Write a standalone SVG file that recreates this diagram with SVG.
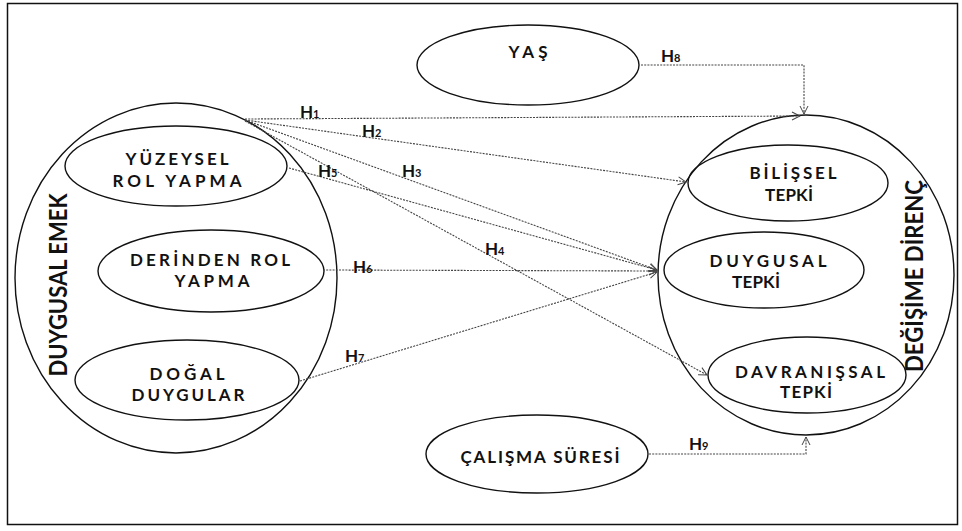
<svg xmlns="http://www.w3.org/2000/svg" width="962" height="531" viewBox="0 0 962 531">
<style>
.n{fill:none;stroke:#111;stroke-width:1.4}
.t{font-family:Lato,"Liberation Sans",sans-serif;font-weight:700;font-size:17px;fill:#111;text-anchor:middle}
.big{font-size:25px}
.c{fill:none;stroke:#444;stroke-width:1.1;stroke-dasharray:2 1.2}
.h{font-family:Lato,"Liberation Sans",sans-serif;font-weight:700;font-size:17px;fill:#111}
.s{font-size:11px}
</style>
<defs>
<marker id="a" markerWidth="10" markerHeight="10" refX="9" refY="5" orient="auto" markerUnits="userSpaceOnUse">
<path d="M1,1 L9,5 L1,9" fill="none" stroke="#444" stroke-width="1"/>
</marker>
</defs>
<rect x="7.5" y="3.5" width="950" height="521" fill="none" stroke="#111" stroke-width="1.5"/>
<g id="duygusal-emek">
<ellipse class="n" cx="176" cy="278" rx="161" ry="175"/>
<text class="t big" transform="translate(67,285) rotate(-90)" textLength="183" lengthAdjust="spacingAndGlyphs">DUYGUSAL EMEK</text>
</g>
<g id="yuzeysel">
<ellipse class="n" cx="176" cy="166" rx="111" ry="40"/>
<text class="t" x="177" y="165" textLength="103">YÜZEYSEL</text>
<text class="t" x="177" y="187" textLength="129">ROL YAPMA</text>
</g>
<g id="derinden">
<ellipse class="n" cx="211" cy="271" rx="113" ry="41"/>
<text class="t" x="210" y="266" textLength="160">DERİNDEN ROL</text>
<text class="t" x="212" y="287" textLength="75">YAPMA</text>
</g>
<g id="dogal">
<ellipse class="n" cx="187" cy="380" rx="112" ry="40"/>
<text class="t" x="187" y="380" textLength="75">DOĞAL</text>
<text class="t" x="188" y="401" textLength="113">DUYGULAR</text>
</g>
<g id="yas">
<ellipse class="n" cx="528" cy="65" rx="111" ry="40"/>
<text class="t" x="528" y="58" textLength="39">YAŞ</text>
</g>
<g id="calisma">
<ellipse class="n" cx="537" cy="454" rx="111" ry="39"/>
<text class="t" x="540" y="463" textLength="159">ÇALIŞMA SÜRESİ</text>
</g>
<g id="degisime-direnc">
<ellipse class="n" cx="806" cy="275" rx="148" ry="160"/>
<text class="t big" transform="translate(923,276) rotate(-90)" textLength="192" lengthAdjust="spacingAndGlyphs">DEĞİŞİME DİRENÇ</text>
</g>
<g id="bilissel">
<ellipse class="n" cx="788" cy="183" rx="100" ry="38"/>
<text class="t" x="793" y="179" textLength="87">BİLİŞSEL</text>
<text class="t" x="789" y="201" textLength="48">TEPKİ</text>
</g>
<g id="duygusal-tepki">
<ellipse class="n" cx="764" cy="270" rx="100" ry="38"/>
<text class="t" x="768" y="267" textLength="117">DUYGUSAL</text>
<text class="t" x="756" y="288" textLength="48">TEPKİ</text>
</g>
<g id="davranissal">
<ellipse class="n" cx="807" cy="375" rx="99" ry="38"/>
<text class="t" x="810" y="378" textLength="150">DAVRANIŞSAL</text>
<text class="t" x="806" y="398" textLength="52">TEPKİ</text>
</g>
<g id="connectors">
<path class="c" d="M245,119 L800,116" marker-end="url(#a)"/>
<path class="c" d="M641,65 L804,65 L804,114" marker-end="url(#a)"/>
<path class="c" d="M245,120 L686,182" marker-end="url(#a)"/>
<path class="c" d="M245,120 L657,270" marker-end="url(#a)"/>
<path class="c" d="M245,121 L707,375" marker-end="url(#a)"/>
<path class="c" d="M289,168 L657,270" marker-end="url(#a)"/>
<path class="c" d="M323,270 L657,271" marker-end="url(#a)"/>
<path class="c" d="M300,381 L657,272" marker-end="url(#a)"/>
<path class="c" d="M649,454 L806,454 L806,437" marker-end="url(#a)"/>
<text class="h" x="300" y="118">H<tspan class="s">1</tspan></text>
<text class="h" x="362" y="137">H<tspan class="s">2</tspan></text>
<text class="h" x="402" y="177">H<tspan class="s">3</tspan></text>
<text class="h" x="485" y="255">H<tspan class="s">4</tspan></text>
<text class="h" x="318" y="177">H<tspan class="s">5</tspan></text>
<text class="h" x="353" y="273">H<tspan class="s">6</tspan></text>
<text class="h" x="345" y="362">H<tspan class="s">7</tspan></text>
<text class="h" x="661" y="62">H<tspan class="s">8</tspan></text>
<text class="h" x="689" y="450">H<tspan class="s">9</tspan></text>
</g>
</svg>
